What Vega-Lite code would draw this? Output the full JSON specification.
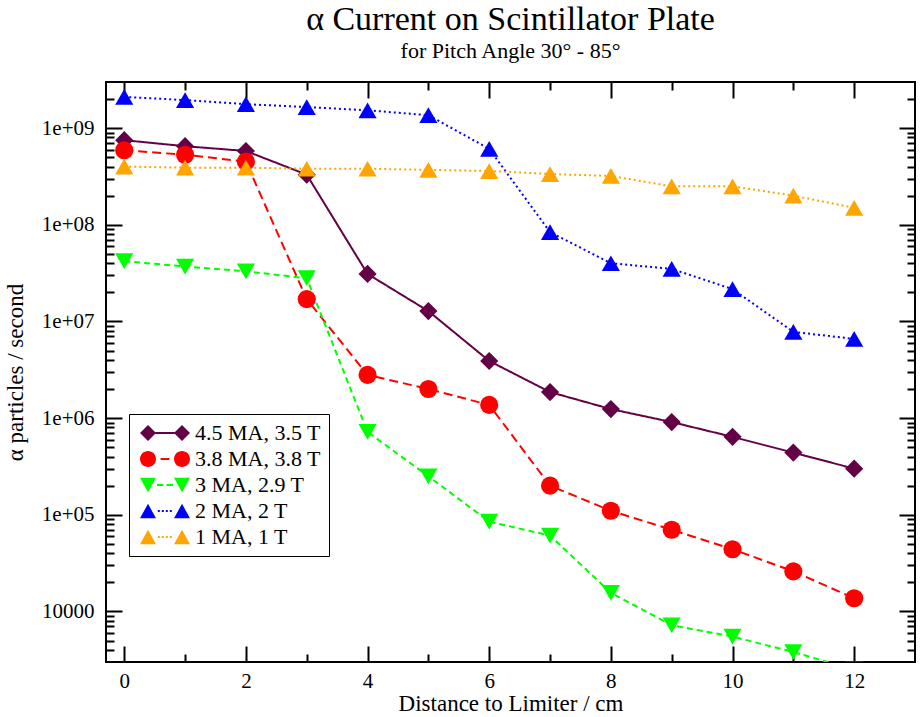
{
  "$schema": "https://vega.github.io/schema/vega-lite/v6.json",
  "autosize": {"type": "none"},
  "padding": {"left": 106, "top": 82, "right": 5, "bottom": 55},
  "width": 809,
  "height": 580,
  "background": "white",
  "config": {
    "view": {"stroke": "black", "strokeWidth": 2},
    "font": "Liberation Serif",
    "axis": {"grid": false, "domain": false, "tickColor": "black", "tickWidth": 2, "labelFont": "Liberation Serif", "labelFontSize": 21, "labelColor": "black", "titleFont": "Liberation Serif", "titleFontSize": 23, "titleFontWeight": "normal", "titleColor": "black"}
  },
  "title": {
    "text": "α Current on Scintillator Plate",
    "subtitle": "for Pitch Angle 30° - 85°",
    "anchor": "middle",
    "font": "Liberation Serif",
    "fontSize": 34,
    "fontWeight": "normal",
    "color": "black",
    "subtitleFont": "Liberation Serif",
    "subtitleFontSize": 22,
    "subtitleColor": "black",
    "subtitlePadding": 4,
    "offset": 19
  },
  "data": {
    "values": [
      {"series": "4.5 MA, 3.5 T", "d": 0, "v": 7.5e8},
      {"series": "4.5 MA, 3.5 T", "d": 1, "v": 6.5e8},
      {"series": "4.5 MA, 3.5 T", "d": 2, "v": 5.8e8},
      {"series": "4.5 MA, 3.5 T", "d": 3, "v": 3.3e8},
      {"series": "4.5 MA, 3.5 T", "d": 4, "v": 3.1e7},
      {"series": "4.5 MA, 3.5 T", "d": 5, "v": 1.28e7},
      {"series": "4.5 MA, 3.5 T", "d": 6, "v": 3.9e6},
      {"series": "4.5 MA, 3.5 T", "d": 7, "v": 1.86e6},
      {"series": "4.5 MA, 3.5 T", "d": 8, "v": 1.24e6},
      {"series": "4.5 MA, 3.5 T", "d": 9, "v": 9.1e5},
      {"series": "4.5 MA, 3.5 T", "d": 10, "v": 6.4e5},
      {"series": "4.5 MA, 3.5 T", "d": 11, "v": 4.4e5},
      {"series": "4.5 MA, 3.5 T", "d": 12, "v": 3.0e5},
      {"series": "3.8 MA, 3.8 T", "d": 0, "v": 5.9e8},
      {"series": "3.8 MA, 3.8 T", "d": 1, "v": 5.3e8},
      {"series": "3.8 MA, 3.8 T", "d": 2, "v": 4.5e8},
      {"series": "3.8 MA, 3.8 T", "d": 3, "v": 1.7e7},
      {"series": "3.8 MA, 3.8 T", "d": 4, "v": 2.8e6},
      {"series": "3.8 MA, 3.8 T", "d": 5, "v": 2.0e6},
      {"series": "3.8 MA, 3.8 T", "d": 6, "v": 1.37e6},
      {"series": "3.8 MA, 3.8 T", "d": 7, "v": 2.0e5},
      {"series": "3.8 MA, 3.8 T", "d": 8, "v": 1.1e5},
      {"series": "3.8 MA, 3.8 T", "d": 9, "v": 7.0e4},
      {"series": "3.8 MA, 3.8 T", "d": 10, "v": 4.4e4},
      {"series": "3.8 MA, 3.8 T", "d": 11, "v": 2.6e4},
      {"series": "3.8 MA, 3.8 T", "d": 12, "v": 1.37e4},
      {"series": "3 MA, 2.9 T", "d": 0, "v": 4.2e7},
      {"series": "3 MA, 2.9 T", "d": 1, "v": 3.7e7},
      {"series": "3 MA, 2.9 T", "d": 2, "v": 3.3e7},
      {"series": "3 MA, 2.9 T", "d": 3, "v": 2.8e7},
      {"series": "3 MA, 2.9 T", "d": 4, "v": 7.2e5},
      {"series": "3 MA, 2.9 T", "d": 5, "v": 2.5e5},
      {"series": "3 MA, 2.9 T", "d": 6, "v": 8.5e4},
      {"series": "3 MA, 2.9 T", "d": 7, "v": 6.1e4},
      {"series": "3 MA, 2.9 T", "d": 8, "v": 1.56e4},
      {"series": "3 MA, 2.9 T", "d": 9, "v": 7.2e3},
      {"series": "3 MA, 2.9 T", "d": 10, "v": 5.5e3},
      {"series": "3 MA, 2.9 T", "d": 11, "v": 3.8e3},
      {"series": "3 MA, 2.9 T", "d": 12, "v": 2.5e3},
      {"series": "2 MA, 2 T", "d": 0, "v": 2.1e9},
      {"series": "2 MA, 2 T", "d": 1, "v": 1.95e9},
      {"series": "2 MA, 2 T", "d": 2, "v": 1.77e9},
      {"series": "2 MA, 2 T", "d": 3, "v": 1.65e9},
      {"series": "2 MA, 2 T", "d": 4, "v": 1.53e9},
      {"series": "2 MA, 2 T", "d": 5, "v": 1.36e9},
      {"series": "2 MA, 2 T", "d": 6, "v": 6.1e8},
      {"series": "2 MA, 2 T", "d": 7, "v": 8.4e7},
      {"series": "2 MA, 2 T", "d": 8, "v": 4.0e7},
      {"series": "2 MA, 2 T", "d": 9, "v": 3.5e7},
      {"series": "2 MA, 2 T", "d": 10, "v": 2.16e7},
      {"series": "2 MA, 2 T", "d": 11, "v": 7.8e6},
      {"series": "2 MA, 2 T", "d": 12, "v": 6.6e6},
      {"series": "1 MA, 1 T", "d": 0, "v": 4.0e8},
      {"series": "1 MA, 1 T", "d": 1, "v": 3.9e8},
      {"series": "1 MA, 1 T", "d": 2, "v": 3.9e8},
      {"series": "1 MA, 1 T", "d": 3, "v": 3.8e8},
      {"series": "1 MA, 1 T", "d": 4, "v": 3.8e8},
      {"series": "1 MA, 1 T", "d": 5, "v": 3.7e8},
      {"series": "1 MA, 1 T", "d": 6, "v": 3.6e8},
      {"series": "1 MA, 1 T", "d": 7, "v": 3.35e8},
      {"series": "1 MA, 1 T", "d": 8, "v": 3.2e8},
      {"series": "1 MA, 1 T", "d": 9, "v": 2.5e8},
      {"series": "1 MA, 1 T", "d": 10, "v": 2.5e8},
      {"series": "1 MA, 1 T", "d": 11, "v": 2.0e8},
      {"series": "1 MA, 1 T", "d": 12, "v": 1.5e8}
    ]
  },
  "resolve": {"axis": {"x": "independent", "y": "independent"}, "scale": {"shape": "independent", "color": "independent"}},
  "layer": [
    {
      "mark": {"type": "line", "strokeWidth": 2, "clip": true},
      "encoding": {
        "x": {"field": "d", "type": "quantitative", "scale": {"domain": [-0.3, 13], "nice": false, "zero": false},
          "axis": {"orient": "bottom", "title": "Distance to Limiter / cm", "values": [0,1,2,3,4,5,6,7,8,9,10,11,12],
            "labelExpr": "datum.value % 2 == 0 ? datum.label : ''",
            "tickSize": {"condition": {"test": "datum.value % 2 == 0", "value": -16}, "value": -8},
            "labelPadding": 24, "titlePadding": 1, "labelFlush": false}},
        "y": {"field": "v", "type": "quantitative", "scale": {"type": "log", "domain": [3000, 3e9], "nice": false},
          "axis": {"orient": "left", "title": "α particles / second",
            "values": [4000,5000,6000,7000,8000,9000,10000,20000,30000,40000,50000,60000,70000,80000,90000,100000,200000,300000,400000,500000,600000,700000,800000,900000,1000000,2000000,3000000,4000000,5000000,6000000,7000000,8000000,9000000,10000000,20000000,30000000,40000000,50000000,60000000,70000000,80000000,90000000,100000000,200000000,300000000,400000000,500000000,600000000,700000000,800000000,900000000,1000000000,2000000000],
            "labelExpr": "abs(log(datum.value)/LN10 - round(log(datum.value)/LN10)) < 1e-6 ? (datum.value < 1e5 ? format(datum.value, 'd') : '1e+0' + round(log(datum.value)/LN10)) : ''",
            "tickSize": {"condition": {"test": "abs(log(datum.value)/LN10 - round(log(datum.value)/LN10)) < 1e-6", "value": -16}, "value": -8},
            "labelPadding": 28, "titlePadding": 14, "labelFlush": false}},
        "color": {"field": "series", "type": "nominal", "legend": null,
          "scale": {"domain": ["4.5 MA, 3.5 T", "3.8 MA, 3.8 T", "3 MA, 2.9 T", "2 MA, 2 T", "1 MA, 1 T"], "range": ["#640046", "#ff0000", "#00ff00", "#0000ff", "#ffa500"]}},
        "strokeDash": {"field": "series", "type": "nominal", "legend": null,
          "scale": {"domain": ["4.5 MA, 3.5 T", "3.8 MA, 3.8 T", "3 MA, 2.9 T", "2 MA, 2 T", "1 MA, 1 T"], "range": [[1, 0], [9, 5], [6, 4], [2, 3], [2, 3]]}}
      }
    },
    {
      "mark": {"type": "point", "filled": true, "opacity": 1, "size": 330, "clip": true},
      "encoding": {
        "x": {"field": "d", "type": "quantitative", "axis": null},
        "y": {"field": "v", "type": "quantitative", "axis": null},
        "color": {"field": "series", "type": "nominal", "legend": null,
          "scale": {"domain": ["4.5 MA, 3.5 T", "3.8 MA, 3.8 T", "3 MA, 2.9 T", "2 MA, 2 T", "1 MA, 1 T"], "range": ["#640046", "#ff0000", "#00ff00", "#0000ff", "#ffa500"]}},
        "shape": {"field": "series", "type": "nominal", "legend": null,
          "scale": {"domain": ["4.5 MA, 3.5 T", "3.8 MA, 3.8 T", "3 MA, 2.9 T", "2 MA, 2 T", "1 MA, 1 T"], "range": ["diamond", "circle", "triangle-down", "triangle-up", "triangle-up"]}}
      }
    },
    {
      "transform": [{"filter": "false"}],
      "mark": {"type": "point", "filled": true},
      "encoding": {
        "x": {"field": "d", "type": "quantitative", "axis": null},
        "y": {"field": "v", "type": "quantitative", "axis": null},
        "color": {"field": "series", "type": "nominal",
          "scale": {"domain": ["4.5 MA, 3.5 T", "3.8 MA, 3.8 T", "3 MA, 2.9 T", "2 MA, 2 T", "1 MA, 1 T"], "range": ["#640046", "#ff0000", "#00ff00", "#0000ff", "#ffa500"]},
          "legend": {
            "title": null, "orient": "none", "legendX": 23, "legendY": 332,
            "strokeColor": "black", "fillColor": "white", "padding": 8,
            "labelFont": "Liberation Serif", "labelFontSize": 22, "labelColor": "black",
            "symbolSize": 256, "symbolOffset": 17, "labelOffset": 19, "rowPadding": 4,
            "symbolStrokeWidth": 0, "symbolOpacity": 1}},
        "shape": {"field": "series", "type": "nominal",
          "legend": {
            "title": null, "orient": "none", "legendX": 23, "legendY": 332,
            "strokeColor": "black", "fillColor": "white", "padding": 8,
            "labelFont": "Liberation Serif", "labelFontSize": 22, "labelColor": "black",
            "symbolSize": 256, "symbolOffset": 17, "labelOffset": 19, "rowPadding": 4,
            "symbolStrokeWidth": 0, "symbolOpacity": 1},
          "scale": {"domain": ["4.5 MA, 3.5 T", "3.8 MA, 3.8 T", "3 MA, 2.9 T", "2 MA, 2 T", "1 MA, 1 T"],
            "range": [
              "M-3.125,0L-2.125,-1L-1.125,0L-2.125,1Z M1.125,0L2.125,-1L3.125,0L2.125,1Z M-1.2,-0.12H1.2V0.12H-1.2Z",
              "M-3.125,0A1,1 0 1,1 -1.125,0A1,1 0 1,1 -3.125,0Z M1.125,0A1,1 0 1,1 3.125,0A1,1 0 1,1 1.125,0Z M-0.55,-0.12H0.55V0.12H-0.55Z",
              "M-3.125,-0.9H-1.125L-2.125,0.9Z M1.125,-0.9H3.125L2.125,0.9Z M-1.0,-0.12H-0.2V0.12H-1.0Z M0.2,-0.12H1.0V0.12H0.2Z",
              "M-3.125,0.9H-1.125L-2.125,-0.9Z M1.125,0.9H3.125L2.125,-0.9Z M-0.9,-0.12H-0.65V0.12H-0.9Z M-0.4,-0.12H-0.15V0.12H-0.4Z M0.1,-0.12H0.35V0.12H0.1Z M0.6,-0.12H0.85V0.12H0.6Z",
              "M-3.125,0.9H-1.125L-2.125,-0.9Z M1.125,0.9H3.125L2.125,-0.9Z M-0.9,-0.12H-0.65V0.12H-0.9Z M-0.4,-0.12H-0.15V0.12H-0.4Z M0.1,-0.12H0.35V0.12H0.1Z M0.6,-0.12H0.85V0.12H0.6Z"
            ]}}
      }
    },
    {
      "mark": {"type": "point", "opacity": 0},
      "encoding": {
        "x": {"field": "d", "type": "quantitative",
          "axis": {"orient": "top", "title": null, "labels": false, "values": [0,1,2,3,4,5,6,7,8,9,10,11,12],
            "tickSize": {"condition": {"test": "datum.value % 2 == 0", "value": -16}, "value": -8}}},
        "y": {"field": "v", "type": "quantitative",
          "axis": {"orient": "right", "title": null, "labels": false,
            "values": [4000,5000,6000,7000,8000,9000,10000,20000,30000,40000,50000,60000,70000,80000,90000,100000,200000,300000,400000,500000,600000,700000,800000,900000,1000000,2000000,3000000,4000000,5000000,6000000,7000000,8000000,9000000,10000000,20000000,30000000,40000000,50000000,60000000,70000000,80000000,90000000,100000000,200000000,300000000,400000000,500000000,600000000,700000000,800000000,900000000,1000000000,2000000000],
            "tickSize": {"condition": {"test": "abs(log(datum.value)/LN10 - round(log(datum.value)/LN10)) < 1e-6", "value": -16}, "value": -8}}}
      }
    }
  ]
}
